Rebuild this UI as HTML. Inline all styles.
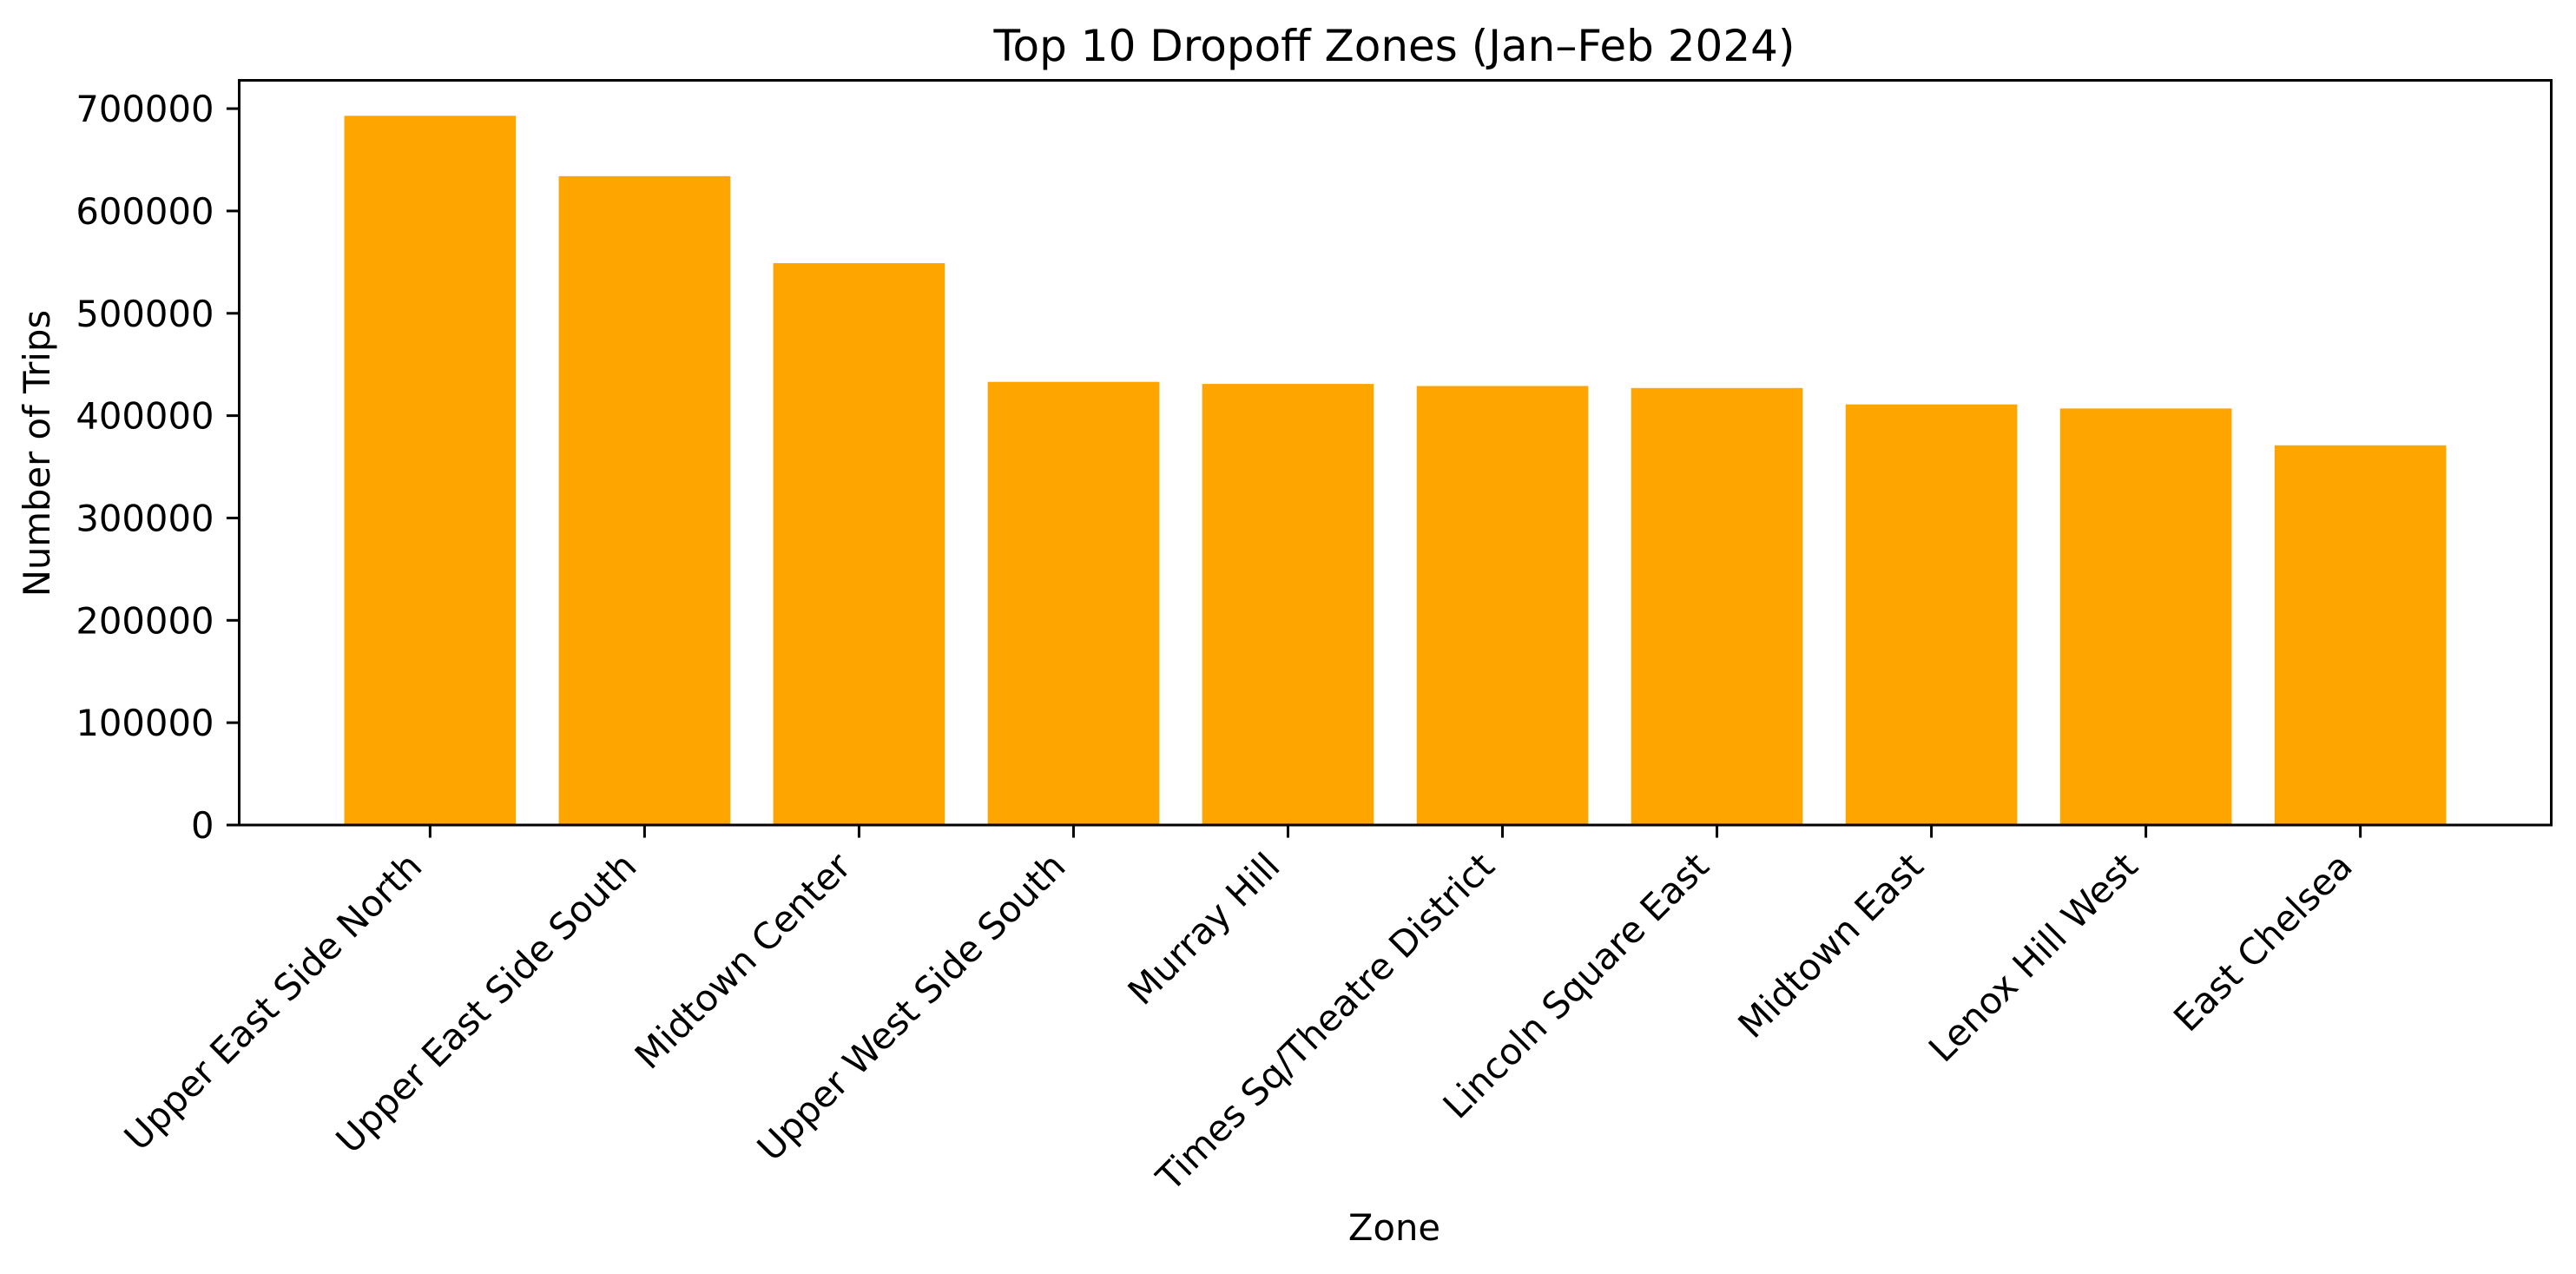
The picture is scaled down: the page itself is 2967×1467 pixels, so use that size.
<!DOCTYPE html>
<html><head><meta charset="utf-8"><style>
html,body{margin:0;padding:0;background:#fff;}
svg{display:block;font-family:"DejaVu Sans","Liberation Sans",sans-serif;}
</style></head><body>
<svg id="chart" width="2967" height="1467" viewBox="0 0 2967 1467" xmlns="http://www.w3.org/2000/svg">
<rect width="2967" height="1467" fill="#fff"/>
<text x="1606" y="70" font-size="50" text-anchor="middle">Top 10 Dropoff Zones (Jan–Feb 2024)</text>
<text transform="translate(57,522) rotate(-90)" font-size="41.7" text-anchor="middle">Number of Trips</text>
<text x="1606" y="1428" font-size="41.7" text-anchor="middle">Zone</text>
<g id="bars"></g><g id="yticks"></g><g id="xticks"></g>
<rect x="275.5" y="92.5" width="2663" height="857.5" fill="none" stroke="#000" stroke-width="3"/>
</svg>
<script>
const categories = ["Upper East Side North","Upper East Side South","Midtown Center","Upper West Side South","Murray Hill","Times Sq/Theatre District","Lincoln Square East","Midtown East","Lenox Hill West","East Chelsea"];
const values = [693000, 634000, 549000, 433000, 431000, 429000, 427000, 411000, 407000, 371000];
const yTicks = [0,100000,200000,300000,400000,500000,600000,700000];
const yTickLabels = ["0","100000","200000","300000","400000","500000","600000","700000"];

const NS="http://www.w3.org/2000/svg";
const L=275.5,R=2938.5,T=92.5,B=950;
const xmin=-0.89,xmax=categories.length-1+0.89;
const ymax=Math.max(...values)*1.05;
const xs=v=>L+(v-xmin)/(xmax-xmin)*(R-L);
const ys=v=>B-v/ymax*(B-T);
function mk(tag,attrs,parent){const e=document.createElementNS(NS,tag);for(const k in attrs)e.setAttribute(k,attrs[k]);parent.appendChild(e);return e;}
const gb=document.getElementById('bars'),gy=document.getElementById('yticks'),gx=document.getElementById('xticks');
values.forEach((v,i)=>{
  const r=mk('rect',{x:xs(i-0.4),y:ys(v),width:xs(i+0.4)-xs(i-0.4),height:B-ys(v),fill:'#ffa500'},gb);
  
  
});
yTicks.forEach((t,i)=>{
  const y=ys(t);
  const l=mk('line',{x1:L-14.6,x2:L,y1:y,y2:y,stroke:'#000','stroke-width':3},gy);
  
  
  const tx=mk('text',{x:L-29,y:y+15,'font-size':41.7,'text-anchor':'end'},gy);
  
  
  tx.textContent=yTickLabels[i];
});
categories.forEach((c,i)=>{
  const x=xs(i);
  const l=mk('line',{x1:x,x2:x,y1:B,y2:B+14.6,stroke:'#000','stroke-width':3},gx);
  
  
  const px=x-7,py=1000;
  const tx=mk('text',{x:px,y:py,'font-size':41.7,'text-anchor':'end',transform:`rotate(-45 ${px} ${py})`},gx);
  
  
  tx.textContent=c;
});
</script>
</body></html>
